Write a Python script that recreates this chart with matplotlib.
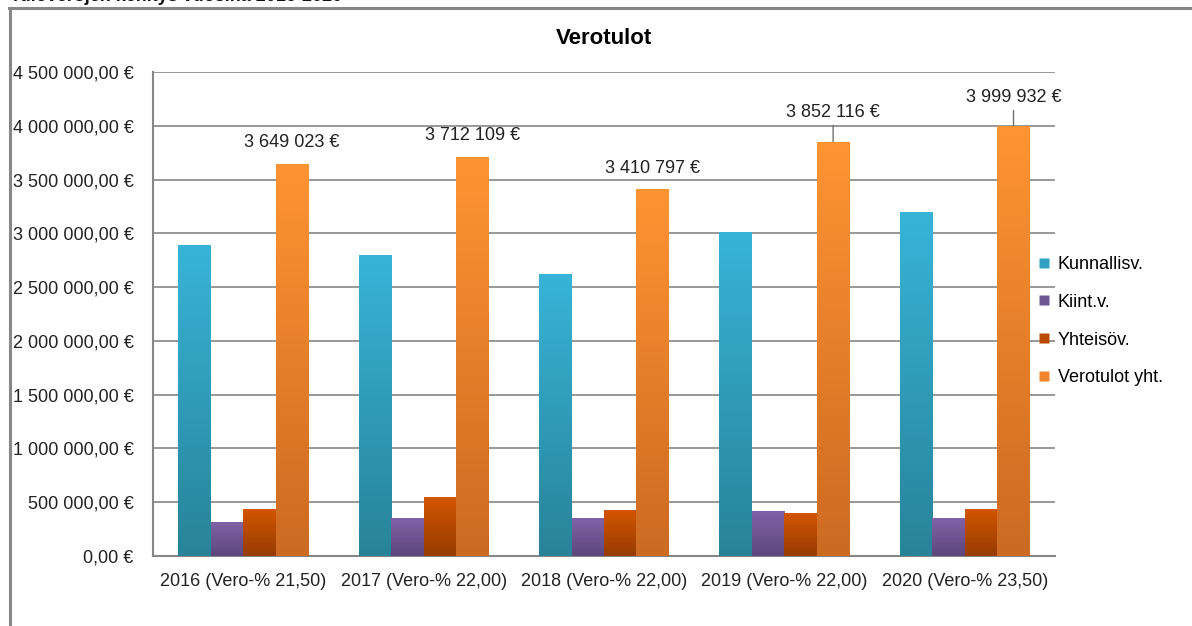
import numpy as np
import matplotlib.pyplot as plt
from matplotlib.colors import LinearSegmentedColormap
from matplotlib.lines import Line2D
from matplotlib.ticker import FuncFormatter

plt.rcParams['font.family'] = ['Liberation Sans', 'DejaVu Sans']

# data
years = ['2016 (Vero-% 21,50)', '2017 (Vero-% 22,00)', '2018 (Vero-% 22,00)',
         '2019 (Vero-% 22,00)', '2020 (Vero-% 23,50)']
series = ['Kunnallisv.', 'Kiint.v.', 'Yhteisöv.', 'Verotulot yht.']
kunnallis = [2891000, 2798000, 2622000, 3012000, 3198000]
kiint = [316000, 353000, 353000, 418000, 353000]
yhteiso = [437000, 549000, 428000, 400000, 437000]
total = [3649023, 3712109, 3410797, 3852116, 3999932]
total_labels = ['3 649 023 €', '3 712 109 €', '3 410 797 €', '3 852 116 €', '3 999 932 €']

# gradient colours (top, bottom)
grads = [('#38b4d8', '#288398'), ('#8062a8', '#5c477c'),
         ('#d45600', '#963c02'), ('#ff9433', '#cc6a22')]
legend_cols = ['#31a2c2', '#6f5694', '#b84b00', '#f0852c']

W, H = 1192, 626
fig = plt.figure(figsize=(W / 100, H / 100), dpi=100)
ax = fig.add_axes([153 / W, (H - 556) / H, 902 / W, 484 / H])

x = np.arange(len(years))
w = 0.18
vals = [kunnallis, kiint, yhteiso, total]


def grad_bar(rect, top, bottom):
    cmap = LinearSegmentedColormap.from_list('g', [bottom, top])
    x0, y0 = rect.get_x(), rect.get_y()
    img = ax.imshow(np.linspace(0, 1, 256).reshape(-1, 1), cmap=cmap,
                    extent=[x0, x0 + rect.get_width(), y0, y0 + rect.get_height()],
                    origin='lower', aspect='auto', zorder=3, interpolation='bilinear')
    img.set_clip_path(rect)


for i, v in enumerate(vals):
    bars = ax.bar(x + (i - 1.5) * w, v, w, color=grads[i][0], edgecolor='none', zorder=2)
    for b in bars:
        grad_bar(b, *grads[i])

ax.set_xlim(-0.5, len(years) - 0.5)
ax.set_ylim(0, 4500000)
ax.set_yticks(np.arange(0, 4500001, 500000))
ax.yaxis.set_major_formatter(FuncFormatter(
    lambda v, p: f'{v:,.2f}'.replace(',', ' ').replace('.', ',') + ' €'))
ax.set_xticks(x)
ax.set_xticklabels(years)
ax.tick_params(axis='both', length=0, labelsize=13, colors='#222222')
ax.tick_params(axis='y', pad=14)
ax.tick_params(axis='x', pad=12)
ax.grid(axis='y', color='#868686', lw=1.2, zorder=0)
ax.set_axisbelow(True)
for s in ['top', 'right']:
    ax.spines[s].set_visible(False)
for s in ['left', 'bottom']:
    ax.spines[s].set_color('#868686')
    ax.spines[s].set_linewidth(1.5)

# labels on total bars
offs = [21, 21, 21, 29, 28]
for i in range(len(years)):
    xp = x[i] + 1.5 * w
    if offs[i] > 25:
        ax.annotate(total_labels[i], (xp, total[i]), xytext=(0, offs[i]),
                    textcoords='offset pixels', ha='center', va='center', fontsize=13,
                    color='#222222', zorder=5,
                    arrowprops=dict(arrowstyle='-', color='#707070', lw=1,
                                    shrinkA=1, shrinkB=0))
    else:
        ax.annotate(total_labels[i], (xp, total[i]), xytext=(0, offs[i]),
                    textcoords='offset pixels', ha='center', va='center', fontsize=13,
                    color='#222222', zorder=5)

ax.set_title('Verotulot', fontsize=16, fontweight='bold', pad=20)

handles = [Line2D([], [], ls='none', marker='s', markersize=7, markerfacecolor=c,
                  markeredgecolor='none') for c in legend_cols]
fig.legend(handles, series, loc='upper left', bbox_to_anchor=(1038 / W, 1 - 256 / H),
           frameon=False, fontsize=13, labelspacing=1.15, handlelength=0.7,
           handletextpad=0.4, borderpad=0, borderaxespad=0)

# outer chart frame
fig.add_artist(Line2D([9.5 / W, 9.5 / W], [0, 1 - 8 / H], color='#878787', lw=2.2,
                      transform=fig.transFigure))
fig.add_artist(Line2D([8.5 / W, 1], [1 - 8 / H, 1 - 8 / H], color='#878787', lw=2.2,
                      transform=fig.transFigure))

# heading above the chart, cut off by the image edge (as in the reference)
fig.text(10 / W, 1 - 1 / H, 'Tuloverojen kehitys vuosina 2016-2020', fontsize=13,
         fontweight='bold', va='baseline', ha='left', color='#111111')

fig.savefig('out.png', dpi=100)
